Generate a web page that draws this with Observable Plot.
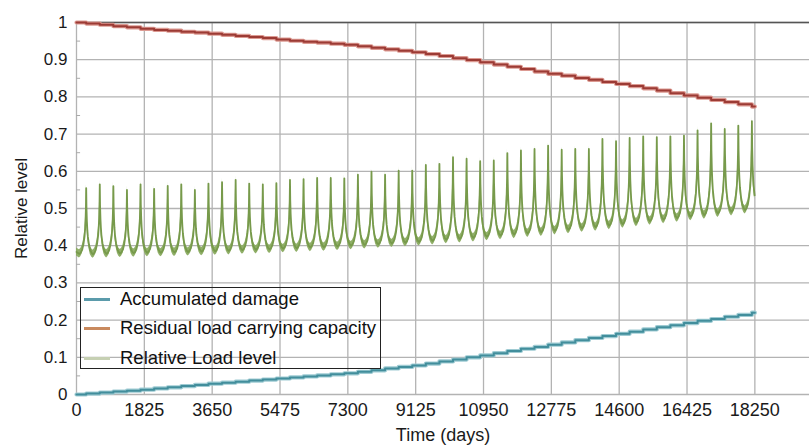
<!DOCTYPE html>
<html>
<head>
<meta charset="utf-8">
<script src="https://cdn.jsdelivr.net/npm/d3@7"></script>
<script src="https://cdn.jsdelivr.net/npm/@observablehq/plot@0.6"></script>
<style>
  html, body { margin: 0; padding: 0; background: #fff; }
  #wrap { position: relative; width: 809px; height: 447px; font-family: "Liberation Sans", Arial, sans-serif; }
  #legend { position: absolute; left: 80px; top: 287px; width: 301px; height: 82px; border: 1.3px solid #222; box-sizing: border-box; }
  .row { position: absolute; left: 0; height: 24px; display: flex; align-items: center; font-size: 18.5px; color: #111; white-space: nowrap; }
  .sw { width: 26px; height: 3px; margin-left: 3px; margin-right: 10px; }
</style>
</head>
<body>
<div id="wrap">
  <div id="chart"></div>
  <div id="legend"></div>
</div>
<script>
// ---- Data ----
const xTicks = [0, 1825, 3650, 5475, 7300, 9125, 10950, 12775, 14600, 16425, 18250];
const yTicks = [0, 0.1, 0.2, 0.3, 0.4, 0.5, 0.6, 0.7, 0.8, 0.9, 1];
const yMinor = [0.05, 0.15, 0.25, 0.35, 0.45, 0.55, 0.65, 0.75, 0.85, 0.95];

const seriesNames = ["Accumulated damage", "Residual load carrying capacity", "Relative Load level"];
const legendColors = ["#5b9bab", "#c98a5e", "#c6d0b3"];

// Annual load peaks (day of first peak, spacing in days)
const firstPeakDay = 261;
const yearDays = 365.5;
const loadPeaks = [
  0.555, 0.565, 0.560, 0.550, 0.565, 0.553, 0.561, 0.565, 0.550, 0.567,
  0.571, 0.577, 0.567, 0.565, 0.568, 0.577, 0.579, 0.582, 0.582, 0.581,
  0.591, 0.599, 0.591, 0.602, 0.602, 0.617, 0.620, 0.638, 0.634, 0.627,
  0.629, 0.649, 0.656, 0.660, 0.669, 0.658, 0.660, 0.660, 0.687, 0.681,
  0.690, 0.694, 0.692, 0.694, 0.696, 0.710, 0.729, 0.714, 0.723, 0.735
];
// Troughs between peaks (51 values: before peak 1 ... after peak 50)
const loadTroughs = [
  0.378, 0.377, 0.378, 0.379, 0.380, 0.381, 0.381, 0.382, 0.383, 0.384,
  0.385, 0.386, 0.388, 0.389, 0.390, 0.392, 0.393, 0.395, 0.396, 0.398,
  0.400, 0.402, 0.404, 0.406, 0.408, 0.410, 0.413, 0.416, 0.418, 0.421,
  0.424, 0.427, 0.430, 0.433, 0.436, 0.440, 0.443, 0.447, 0.450, 0.454,
  0.458, 0.462, 0.466, 0.470, 0.474, 0.478, 0.482, 0.487, 0.491, 0.496, 0.500
];
const loadStart = 0.383;
// Shape of one yearly cycle around its peak (offset in years, fraction of peak height)
const cycleOffset = [-0.5, -0.4, -0.3, -0.2, -0.12, -0.08, -0.05, -0.02, 0, 0.02, 0.05, 0.08, 0.12, 0.2, 0.3, 0.4];
const cycleShape  = [0, 0.02, 0.06, 0.15, 0.27, 0.38, 0.5, 0.7, 1, 0.7, 0.5, 0.38, 0.27, 0.15, 0.06, 0.02];

// Yearly values at years 0..50 (step at each annual peak)
const damage = [
  0, 0.0026, 0.0052, 0.0078, 0.0104, 0.013,
  0.0162, 0.0194, 0.0226, 0.0258, 0.029,
  0.0318, 0.0346, 0.0374, 0.0402, 0.043,
  0.0458, 0.0486, 0.0514, 0.0542, 0.057,
  0.061, 0.065, 0.070, 0.074, 0.078,
  0.083, 0.089, 0.094, 0.100, 0.105,
  0.111, 0.117, 0.123, 0.128, 0.134,
  0.140, 0.146, 0.152, 0.157, 0.163,
  0.169, 0.175, 0.181, 0.186, 0.192,
  0.198, 0.203, 0.209, 0.214, 0.220
];
const residual = [
  1, 0.997, 0.994, 0.990, 0.987, 0.983,
  0.980, 0.978, 0.975, 0.973, 0.970,
  0.967, 0.964, 0.961, 0.958, 0.954,
  0.951, 0.948, 0.946, 0.943, 0.940,
  0.936, 0.932, 0.928, 0.924, 0.920,
  0.915, 0.910, 0.904, 0.899, 0.893,
  0.887, 0.881, 0.875, 0.868, 0.862,
  0.857, 0.851, 0.846, 0.840, 0.835,
  0.829, 0.823, 0.817, 0.810, 0.804,
  0.798, 0.792, 0.786, 0.780, 0.774
];
const endDay = 18250;

// ---- Build tables ----
const peakDay = i => firstPeakDay + yearDays * i;
const load = [{day: 0, v: loadStart}];
loadPeaks.forEach((p, i) => {
  cycleOffset.forEach((o, k) => {
    const t = o < 0 ? loadTroughs[i] : loadTroughs[i + 1];
    const day = peakDay(i) + o * yearDays;
    if (day > 0 && day <= endDay) load.push({day, v: t + (p - t) * cycleShape[k]});
  });
});

function stepTable(vals) {
  const rows = vals.map((v, k) => ({day: k === 0 ? 0 : peakDay(k - 1), v}));
  rows.push({day: endDay, v: vals[vals.length - 1]});
  return rows;
}
const dmg = stepTable(damage);
const res = stepTable(residual);

const fmtY = d => (d === 0 ? "0" : d === 1 ? "1" : d.toFixed(1));

const chart = Plot.plot({
  width: 809,
  height: 447,
  marginLeft: 76,
  marginRight: 0,
  marginTop: 22,
  marginBottom: 53,
  style: {fontFamily: "'Liberation Sans', Arial, sans-serif", fontSize: "18px", color: "#1a1a1a", background: "#fff"},
  x: {domain: [0, 19720]},
  y: {domain: [0, 1]},
  marks: [
    Plot.ruleY(yTicks, {stroke: "#b3b3b3", strokeWidth: 1.3}),
    Plot.ruleX(xTicks, {stroke: "#b3b3b3", strokeWidth: 1.3}),
    Plot.ruleY([1], {stroke: "#555", strokeWidth: 1.3}),
    Plot.ruleY(yMinor, {x1: 0, x2: 110, stroke: "#aaa"}),
    Plot.axisX({ticks: xTicks, tickSize: 0, tickPadding: 9, tickFormat: d => String(d),
      label: "Time (days)", labelAnchor: "center", labelArrow: "none", labelOffset: 46}),
    Plot.axisY({ticks: yTicks, tickSize: 0, tickPadding: 9, tickFormat: fmtY,
      label: "Relative level", labelAnchor: "center", labelArrow: "none", labelOffset: 62, fontSize: 17}),
    // Relative load level (green band)
    Plot.areaY(load, {x: "day", y1: d => d.v - 0.011, y2: d => d.v + 0.011, fill: "#8aab60", fillOpacity: 0.95}),
    Plot.line(load, {x: "day", y: "v", stroke: "#779a4b", strokeWidth: 1.8}),
    // Residual load carrying capacity
    Plot.line(res, {x: "day", y: "v", curve: "step-after", stroke: "#dc9a92", strokeWidth: 4.2}),
    Plot.line(res, {x: "day", y: "v", curve: "step-after", stroke: "#9c3b35", strokeWidth: 2}),
    // Accumulated damage
    Plot.line(dmg, {x: "day", y: "v", curve: "step-after", stroke: "#9fcbd3", strokeWidth: 4.2}),
    Plot.line(dmg, {x: "day", y: "v", curve: "step-after", stroke: "#428e9c", strokeWidth: 2})
  ]
});
document.getElementById("chart").appendChild(chart);

// Legend overlay
const legend = document.getElementById("legend");
const rowTops = [-1, 28, 58];
seriesNames.forEach((name, i) => {
  const row = document.createElement("div");
  row.className = "row";
  row.style.top = rowTops[i] + "px";
  const sw = document.createElement("span");
  sw.className = "sw";
  sw.style.background = legendColors[i];
  const tx = document.createElement("span");
  tx.textContent = name;
  row.appendChild(sw);
  row.appendChild(tx);
  legend.appendChild(row);
});
</script>
</body>
</html>
